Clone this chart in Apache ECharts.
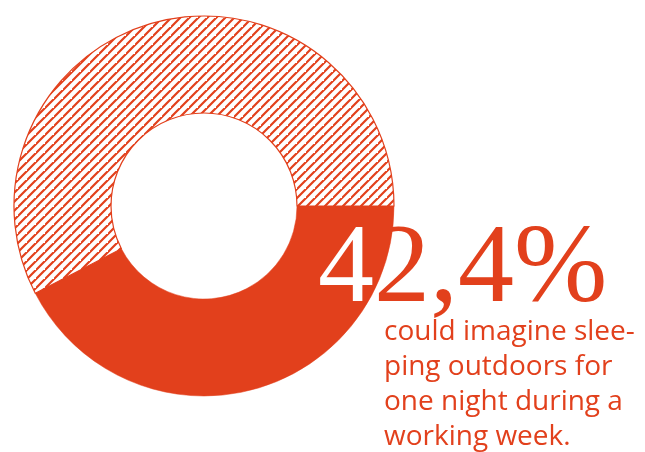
<!DOCTYPE html>
<html>
<head>
<meta charset="utf-8">
<script src="https://cdn.jsdelivr.net/npm/echarts@6/dist/echarts.min.js"></script>
<style>
  html, body { margin: 0; padding: 0; background: #ffffff; }
  #chart { width: 645px; height: 452px; }
</style>
</head>
<body>
<div id="chart"></div>
<script>
// Share of respondents who could imagine sleeping outdoors on a work night
const categories = ['could imagine', 'could not imagine'];
const shares = [42.4, 57.6];
const headline = '42,4%';
const caption = ['could imagine slee-', 'ping outdoors for', 'one night during a', 'working week.'];

const RED = '#e2401c';

// Diagonal hatch tile for the remaining share
function hatchPattern() {
  const s = 9;
  const c = document.createElement('canvas');
  c.width = s; c.height = s;
  const ctx = c.getContext('2d');
  ctx.fillStyle = '#ffffff';
  ctx.fillRect(0, 0, s, s);
  ctx.strokeStyle = RED;
  ctx.lineWidth = 2.2;
  ctx.beginPath();
  ctx.moveTo(-1, s + 1); ctx.lineTo(s + 1, -1);
  ctx.moveTo(-1 - s, s + 1); ctx.lineTo(1, -1);
  ctx.moveTo(s - 1, 2 * s + 1); ctx.lineTo(2 * s + 1, s - 1);
  ctx.stroke();
  return c;
}

const chart = echarts.init(document.getElementById('chart'), null, { renderer: 'canvas' });

const bigFont = '112px "Liberation Serif"';
const bigX = 318, bigY = 216;

chart.setOption({
  animation: false,
  series: [{
    type: 'pie',
    z: 2,
    center: [204, 206],
    radius: [93, 190],
    startAngle: 0,
    clockwise: true,
    silent: true,
    label: { show: false },
    labelLine: { show: false },
    emphasis: { disabled: true },
    data: [
      { name: categories[0], value: shares[0],
        itemStyle: { color: RED, borderColor: RED, borderWidth: 0.5 } },
      { name: categories[1], value: shares[1],
        itemStyle: { color: { image: hatchPattern(), repeat: 'repeat' }, borderColor: RED, borderWidth: 1.2 } }
    ]
  }],
  graphic: [
    // headline in red, drawn beneath the ring so the solid segment hides it
    { type: 'text', z: 0, silent: true,
      style: { text: headline, x: bigX, y: bigY, font: bigFont, fill: RED,
               textAlign: 'left', textVerticalAlign: 'top' } },
    // leading digit knocked out in white where it sits on the solid segment
    { type: 'text', z: 100, silent: true,
      style: { text: headline.charAt(0), x: bigX, y: bigY, font: bigFont, fill: '#ffffff',
               textAlign: 'left', textVerticalAlign: 'top' } },
    { type: 'text', z: 102, silent: true,
      style: { text: caption.join('\n'), x: 384, y: 315, font: '400 28px "Open Sans"',
               lineHeight: 35, fill: RED, textAlign: 'left', textVerticalAlign: 'top' } }
  ]
});
</script>
</body>
</html>
